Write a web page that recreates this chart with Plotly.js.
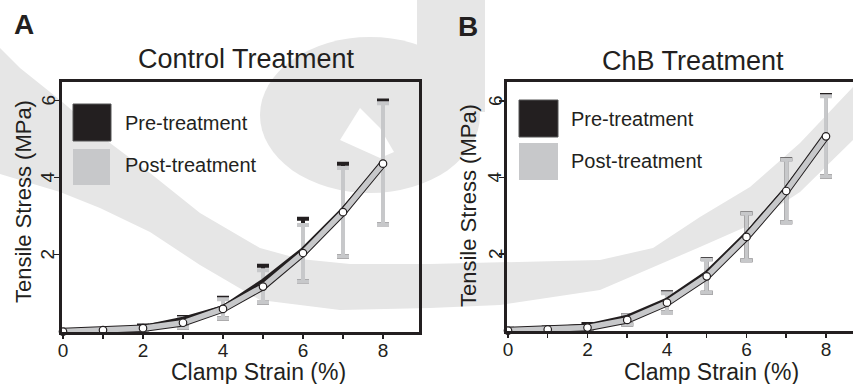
<!DOCTYPE html>
<html>
<head>
<meta charset="utf-8">
<script src="https://cdn.plot.ly/plotly-3.0.1.min.js"></script>
<style>
html,body{margin:0;padding:0;background:#ffffff;overflow:hidden}
#chart{width:853px;height:384px}
</style>
</head>
<body>
<div id="chart"></div>
<script>
// ---------------- data ----------------
const strain = [0, 1, 2, 3, 4, 5, 6, 7, 8];
const xTickVals = [0, 1, 2, 3, 4, 5, 6, 7, 8];
const xTickText = ['0', '', '2', '', '4', '', '6', '', '8'];
const yTickVals = [2, 4, 6];
const yTickText = ['2', '4', '6'];
const seriesNames = ['Pre-treatment', 'Post-treatment'];
const panelTitles = ['Control Treatment', 'ChB Treatment'];
const panelLetters = ['A', 'B'];
const xTitleText = 'Clamp Strain (%)';
const yTitleText = 'Tensile Stress (MPa)';

// Control treatment (panel A)
const controlPre         = [0.02, 0.05, 0.13, 0.34, 0.64, 1.33, 2.15, 3.19, 4.40];
const controlPreErrUp    = [0.02, 0.02, 0.03, 0.04, 0.24, 0.38, 0.78, 1.17, 1.60];
const controlPreErrDown  = [0.04, 0.03, 0.07, 0.23, 0.30, 0.58, 0.84, 1.24, 1.61];
const controlPost        = [0.00, 0.04, 0.09, 0.23, 0.59, 1.17, 2.04, 3.10, 4.36];
const controlPostErr     = [0.02, 0.02, 0.03, 0.12, 0.25, 0.42, 0.73, 1.15, 1.57];

// ChB treatment (panel B)
const chbPre             = [0.03, 0.06, 0.14, 0.37, 0.82, 1.53, 2.55, 3.74, 5.10];
const chbPreErrUp        = [0.02, 0.02, 0.03, 0.04, 0.18, 0.34, 0.52, 0.74, 1.06];
const chbPreErrDown      = [0.05, 0.05, 0.09, 0.21, 0.34, 0.54, 0.71, 0.91, 1.07];
const chbPost            = [0.00, 0.03, 0.08, 0.28, 0.73, 1.42, 2.45, 3.65, 5.08];
const chbPostErr         = [0.02, 0.02, 0.03, 0.12, 0.25, 0.43, 0.61, 0.82, 1.05];

// ---------------- styling ----------------
const W = 853, H = 384;
const INK = '#231f20';
const GREY = '#c7c8ca';
const WATERMARK = '#e6e6e6';
const FONT = 'Liberation Sans, Arial, Helvetica, sans-serif';

const fx = x => x / W;
const fy = y => 1 - y / H;

function panelTraces(xa, ya, pre, preUp, preDown, post, postErr) {
  return [
    { // pre-treatment error bars
      x: strain, y: pre, xaxis: xa, yaxis: ya, type: 'scatter', mode: 'markers',
      marker: {size: 1, opacity: 0}, showlegend: false, hoverinfo: 'skip', name: seriesNames[0],
      error_y: {type: 'data', symmetric: false, array: preUp, arrayminus: preDown,
                color: INK, thickness: 4, width: 6}
    },
    { // post-treatment error bars
      x: strain, y: post, xaxis: xa, yaxis: ya, type: 'scatter', mode: 'markers',
      marker: {size: 1, opacity: 0}, showlegend: false, hoverinfo: 'skip', name: seriesNames[1],
      error_y: {type: 'data', array: postErr, color: GREY, thickness: 4, width: 6}
    },
    { // pre-treatment line
      x: strain, y: pre, xaxis: xa, yaxis: ya, type: 'scatter', mode: 'lines',
      line: {color: INK, width: 3.5}, showlegend: false, name: seriesNames[0]
    },
    { // post-treatment outline
      x: strain, y: post, xaxis: xa, yaxis: ya, type: 'scatter', mode: 'lines',
      line: {color: INK, width: 7.5}, showlegend: false, hoverinfo: 'skip', name: seriesNames[1]
    },
    { // post-treatment line with points
      x: strain, y: post, xaxis: xa, yaxis: ya, type: 'scatter', mode: 'lines+markers',
      line: {color: GREY, width: 5.5}, cliponaxis: false, showlegend: false, name: seriesNames[1],
      marker: {symbol: 'circle', size: 7.5, color: '#ffffff', line: {color: INK, width: 1.2}}
    }
  ];
}

const data = [].concat(
  panelTraces('x', 'y', controlPre, controlPreErrUp, controlPreErrDown, controlPost, controlPostErr),
  panelTraces('x2', 'y2', chbPre, chbPreErrUp, chbPreErrDown, chbPost, chbPostErr)
);

function xAxis(domain, range, anchor) {
  return {
    domain: domain, range: range, anchor: anchor,
    tickmode: 'array', tickvals: xTickVals, ticktext: xTickText,
    ticks: 'outside', ticklen: 4, tickwidth: 1.5, tickcolor: INK,
    ticklabelstandoff: -5,
    showline: true, linewidth: 3, linecolor: INK, mirror: true,
    showgrid: false, zeroline: false,
    tickfont: {family: FONT, size: 19, color: INK}
  };
}
function yAxis(domain, range, anchor, mirror) {
  return {
    domain: domain, range: range, anchor: anchor,
    tickmode: 'array', tickvals: yTickVals, ticktext: yTickText,
    showticklabels: false,
    ticks: 'outside', ticklen: 5, tickwidth: 1.5, tickcolor: INK,
    showline: true, linewidth: 3, linecolor: INK, mirror: mirror,
    showgrid: false, zeroline: false
  };
}

// watermark (background logo) drawn in pixel space
function pathFrom(points) {
  return 'M ' + points.map(p => fx(p[0]).toFixed(5) + ',' + fy(p[1]).toFixed(5)).join(' L ') + ' Z';
}
const bandPts = [
  [0,48],[20,68],[60,100],[110,143],[150,173],[200,213],[260,248],[300,259],[350,264],[430,264],
  [600,260],[653,248],[700,217],[750,187],[800,143],[853,87],
  [853,140],[800,192],[750,225],[700,247],[600,290],[500,305],[430,308],[340,310],[260,300],
  [200,265],[150,232],[100,208],[60,192],[0,174]
];
const notchPts = [[340,140],[360,108],[380,128],[394,152],[380,158]];

const shapes = [
  {type: 'path', xref: 'paper', yref: 'paper', layer: 'below', path: pathFrom(bandPts),
   fillcolor: WATERMARK, line: {width: 0}},
  {type: 'circle', xref: 'paper', yref: 'paper', layer: 'below',
   x0: fx(260), x1: fx(480), y0: fy(193), y1: fy(37), fillcolor: WATERMARK, line: {width: 0}},
  {type: 'rect', xref: 'paper', yref: 'paper', layer: 'below',
   x0: fx(417), x1: fx(485), y0: fy(112), y1: fy(0), fillcolor: WATERMARK, line: {width: 0}},
  {type: 'path', xref: 'paper', yref: 'paper', layer: 'below', path: pathFrom(notchPts),
   fillcolor: '#ffffff', line: {width: 0}},
  // legend swatches panel A
  {type: 'rect', xref: 'paper', yref: 'paper', x0: fx(73), x1: fx(111), y0: fy(141), y1: fy(104),
   fillcolor: INK, line: {color: '#555555', width: 1}},
  {type: 'rect', xref: 'paper', yref: 'paper', x0: fx(73), x1: fx(110), y0: fy(185), y1: fy(149),
   fillcolor: GREY, line: {width: 0}},
  // legend swatches panel B
  {type: 'rect', xref: 'paper', yref: 'paper', x0: fx(519), x1: fx(558), y0: fy(137), y1: fy(100),
   fillcolor: INK, line: {color: '#555555', width: 1}},
  {type: 'rect', xref: 'paper', yref: 'paper', x0: fx(519), x1: fx(558), y0: fy(180), y1: fy(143),
   fillcolor: GREY, line: {width: 0}}
];

function note(text, x, y, size, opts) {
  return Object.assign({
    text: text, xref: 'paper', yref: 'paper', x: fx(x), y: fy(y),
    xanchor: 'center', yanchor: 'middle', showarrow: false,
    font: {family: FONT, size: size, color: INK}
  }, opts || {});
}

// rotated y tick labels, positioned through each y axis
function yTickNotes(yref, xPix) {
  return yTickVals.map((v, i) => ({
    text: yTickText[i], xref: 'paper', yref: yref, x: fx(xPix), y: v,
    xanchor: 'center', yanchor: 'middle', showarrow: false, textangle: -90,
    font: {family: FONT, size: 19, color: INK}
  }));
}

const annotations = [
  note('<b>' + panelLetters[0] + '</b>', 24, 25, 28),
  note('<b>' + panelLetters[1] + '</b>', 468, 26, 28),
  note(panelTitles[0], 246, 59, 27),
  note(panelTitles[1], 693, 61, 27),
  note(xTitleText, 258, 372, 23),
  note(xTitleText, 711, 372, 23),
  note(yTitleText, 23, 202, 22, {textangle: -90}),
  note(yTitleText, 468, 205, 22, {textangle: -90}),
  note(seriesNames[0], 123, 123, 20, {xanchor: 'left'}),
  note(seriesNames[1], 123, 165, 20, {xanchor: 'left'}),
  note(seriesNames[0], 569, 119, 20, {xanchor: 'left'}),
  note(seriesNames[1], 569, 161, 20, {xanchor: 'left'})
].concat(yTickNotes('y', 48), yTickNotes('y2', 495));

const layout = {
  width: W, height: H, autosize: false,
  margin: {l: 0, r: 0, t: 0, b: 0, pad: 0},
  paper_bgcolor: '#ffffff', plot_bgcolor: 'rgba(0,0,0,0)',
  showlegend: false,
  font: {family: FONT, color: INK},
  xaxis: xAxis([61.5 / W, 419 / W], [-0.0375, 8.9], 'y'),
  yaxis: yAxis([(H - 332) / H, (H - 82) / H], [-0.01, 6.48], 'x', true),
  xaxis2: xAxis([506.5 / W, 1], [-0.0375, 8.68], 'y2'),
  yaxis2: yAxis([(H - 331) / H, (H - 82) / H], [-0.01, 6.5], 'x2', false),
  shapes: shapes,
  annotations: annotations
};

Plotly.newPlot('chart', data, layout, {displayModeBar: false, staticPlot: true});
</script>
</body>
</html>
